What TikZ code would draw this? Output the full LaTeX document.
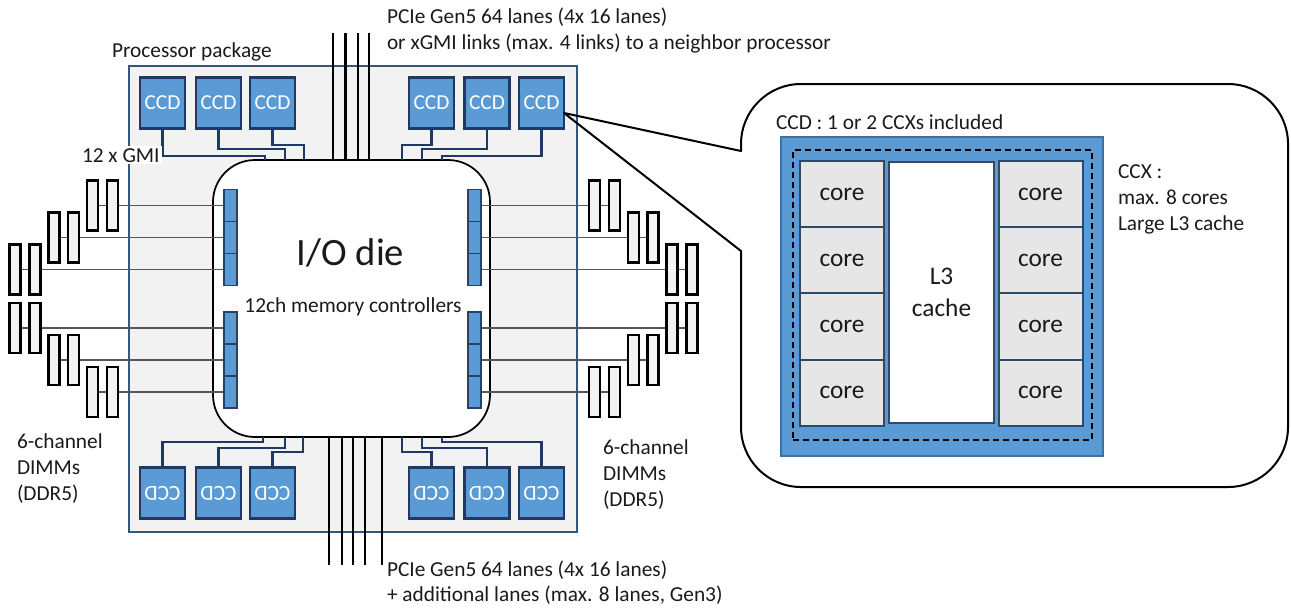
\documentclass[tikz,border=0pt]{standalone}
\usepackage{fontspec}
\usepackage{graphicx}
\setmainfont{Carlito}
\definecolor{pkgfill}{HTML}{F2F2F2}
\definecolor{pkgline}{HTML}{34587D}
\definecolor{ccdblue}{HTML}{5B9BD5}
\definecolor{navy}{HTML}{203864}
\definecolor{mcline}{HTML}{24426A}
\definecolor{wiregray}{HTML}{555555}
\definecolor{corefill}{HTML}{E7E6E6}
\definecolor{coreline}{HTML}{2E4A68}
\definecolor{ccxline}{HTML}{41719C}
\definecolor{txt}{HTML}{1A1A1A}
\pgfdeclarelayer{back}
\pgfdeclarelayer{wires}
\pgfsetlayers{back,wires,main}
\begin{document}
\begin{tikzpicture}[x=0.75pt,y=-0.75pt,
  every node/.style={inner sep=0pt, outer sep=0pt},
  lbl/.style={anchor=base west, text=txt, font=\fontsize{16}{19}\selectfont},
  ccd/.style={draw=navy, line width=1.6pt, fill=ccdblue, minimum width=33.75pt,
    minimum height=38.25pt, text=white, font=\fontsize{16}{19}\selectfont},
  dimm/.style={draw=black, line width=1.6pt, fill=pkgfill, minimum width=8.25pt, minimum height=37.5pt},
  mc/.style={draw=mcline, line width=1.2pt, fill=ccdblue, minimum width=9.75pt, minimum height=24pt},
  gmi/.style={draw=navy, line width=2.2pt},
  memline/.style={draw=wiregray, line width=1.2pt},
  lane/.style={draw=black, line width=1.6pt},
  core/.style={draw=coreline, line width=1.5pt, fill=corefill, minimum width=63pt,
    minimum height=49.7pt, text=txt, font=\fontsize{19}{23}\selectfont},
]
\useasboundingbox (0,0) rectangle (1291,608);

% package and I/O die
\begin{pgfonlayer}{back}
  \node[draw=pkgline, line width=1pt, fill=pkgfill, minimum width=336pt, minimum height=349.5pt] (pkg) at (353,299) {};
  \node[draw=black, line width=1.3pt, fill=white, rounded corners=31.5pt, minimum width=207.75pt, minimum height=207.75pt] (die) at (351.5,298.5) {};
\end{pgfonlayer}

\node[anchor=base, text=txt, font=\fontsize{29}{34}\selectfont] (iod) at (350.5,265) {I/O die};
\node[anchor=base, text=txt, font=\fontsize{16}{19}\selectfont] (mclbl) at (353,312) {12ch memory controllers};

% memory controllers
\foreach \i/\y in {1/205.5,2/237.5,3/269.5,4/328,5/360,6/392} {
  \node[mc] (mcL\i) at (230.5,\y) {};
  \node[mc] (mcR\i) at (474.5,\y) {};
}

% DIMM pairs on both sides
\foreach \i/\y/\xo/\xi in {1/205.5/92.5/112.5, 2/237.5/54/73.5, 3/269.5/15/35, 4/328/15/35, 5/360/54/73.5, 6/392/92.5/112.5} {
  \node[dimm] (dLa\i) at (\xo,\y) {};
  \node[dimm] (dLb\i) at (\xi,\y) {};
  \node[dimm] (dRa\i) at ({707-\xo},\y) {};
  \node[dimm] (dRb\i) at ({707-\xi},\y) {};
}

% CCDs
\foreach \n/\x in {1/162.5,2/218.5,3/272.5,4/431.5,5/487,6/541.5} {
  \node[ccd] (c\n) at (\x,103) {CCD};
  \node[ccd] (d\n) at (\x,493) {\rotatebox{180}{CCD}};
}

\begin{pgfonlayer}{wires}
  % memory channels
  \foreach \i in {1,...,6} {
    \draw[memline] (mcL\i.west) -- (dLa\i.center);
    \draw[memline] (mcR\i.east) -- (dRa\i.center);
  }
  % GMI links
  \foreach \n/\h/\e in {1/156/265, 2/149/285, 3/145/304, 4/145/402, 5/149/422, 6/156/442} {
    \coordinate (gt\n) at (\e,160);
    \draw[gmi] (c\n.south) |- (\e,\h) -- (gt\n);
  }
  \foreach \n/\h/\e in {1/442/263, 2/448/285, 3/452/303, 4/452/402, 5/448/422, 6/442/442} {
    \coordinate (gb\n) at (\e,437);
    \draw[gmi] (d\n.north) |- (\e,\h) -- (gb\n);
  }
  % PCIe lanes
  \foreach \x [count=\k] in {333,345.5,358,369} {
    \coordinate (pt\k) at (\x,33);
    \draw[lane] (pt\k) -- (pt\k |- die.north);
  }
  \foreach \x [count=\k] in {329,342,353,365,382} {
    \coordinate (pb\k) at (\x,565);
    \draw[lane] (pb\k) -- (pb\k |- die.south);
  }
\end{pgfonlayer}

% labels around the package
\node[lbl] (pkglbl) at (112,57.5) {Processor package};
\node[lbl, fill=white, inner sep=1.5pt] (gmilbl) at (80,162) {12 x GMI};
\node[lbl] (pcieT1) at (387,23) {PCIe Gen5 64 lanes (4x 16 lanes)};
\node[lbl] (pcieT2) at (387,49) {or xGMI links (max. 4 links) to a neighbor processor};
\node[lbl] (pcieB1) at (387,576) {PCIe Gen5 64 lanes (4x 16 lanes)};
\node[lbl] (pcieB2) at (387,601) {+ additional lanes (max. 8 lanes, Gen3)};
\node[lbl] (dimL1) at (17,448) {6-channel};
\node[lbl] (dimL2) at (17,474) {DIMMs};
\node[lbl] (dimL3) at (17,500) {(DDR5)};
\node[lbl] (dimR1) at (603,454) {6-channel};
\node[lbl] (dimR2) at (603,480) {DIMMs};
\node[lbl] (dimR3) at (603,506) {(DDR5)};

% callout with the CCD detail
\coordinate (tip) at ([yshift=-7.5pt]c6.east);
\coordinate (wu) at (741,151);
\coordinate (wl) at (741,251);
\draw[line width=1.5pt, line join=round] (tip) -- (wu) -- (741,144)
  arc[start angle=180, end angle=270, radius=60] -- (1228,84)
  arc[start angle=270, end angle=360, radius=60] -- (1288,427)
  arc[start angle=0, end angle=90, radius=60] -- (801,487)
  arc[start angle=90, end angle=180, radius=60] -- (wl) -- cycle;

\node[lbl] (ccdcap) at (776,129) {CCD : 1 or 2 CCXs included};
\node[draw=ccxline, line width=0.8pt, fill=ccdblue, minimum width=241.5pt, minimum height=239.25pt] (ccdbox) at (942,296.5) {};
\node[draw=black, dashed, dash pattern=on 4.5pt off 3pt, line width=1.5pt, minimum width=224.25pt, minimum height=217.5pt] (ccx) at (942.5,295) {};
\foreach \r/\y in {1/194.1,2/260.4,3/326.6,4/392.9} {
  \node[core] (kl\r) at (842,\y) {core};
  \node[core] (kr\r) at (1040.5,\y) {core};
}
\node[draw=coreline, line width=1.5pt, fill=white, minimum width=78.75pt, minimum height=195.75pt,
  align=center, text=txt, font=\fontsize{19}{24}\selectfont] (l3) at (941.5,292.5) {L3\\cache};

\node[lbl] (ccx1) at (1118,178) {CCX :};
\node[lbl] (ccx2) at (1118,204) {max. 8 cores};
\node[lbl] (ccx3) at (1118,230) {Large L3 cache};
\end{tikzpicture}
\end{document}
